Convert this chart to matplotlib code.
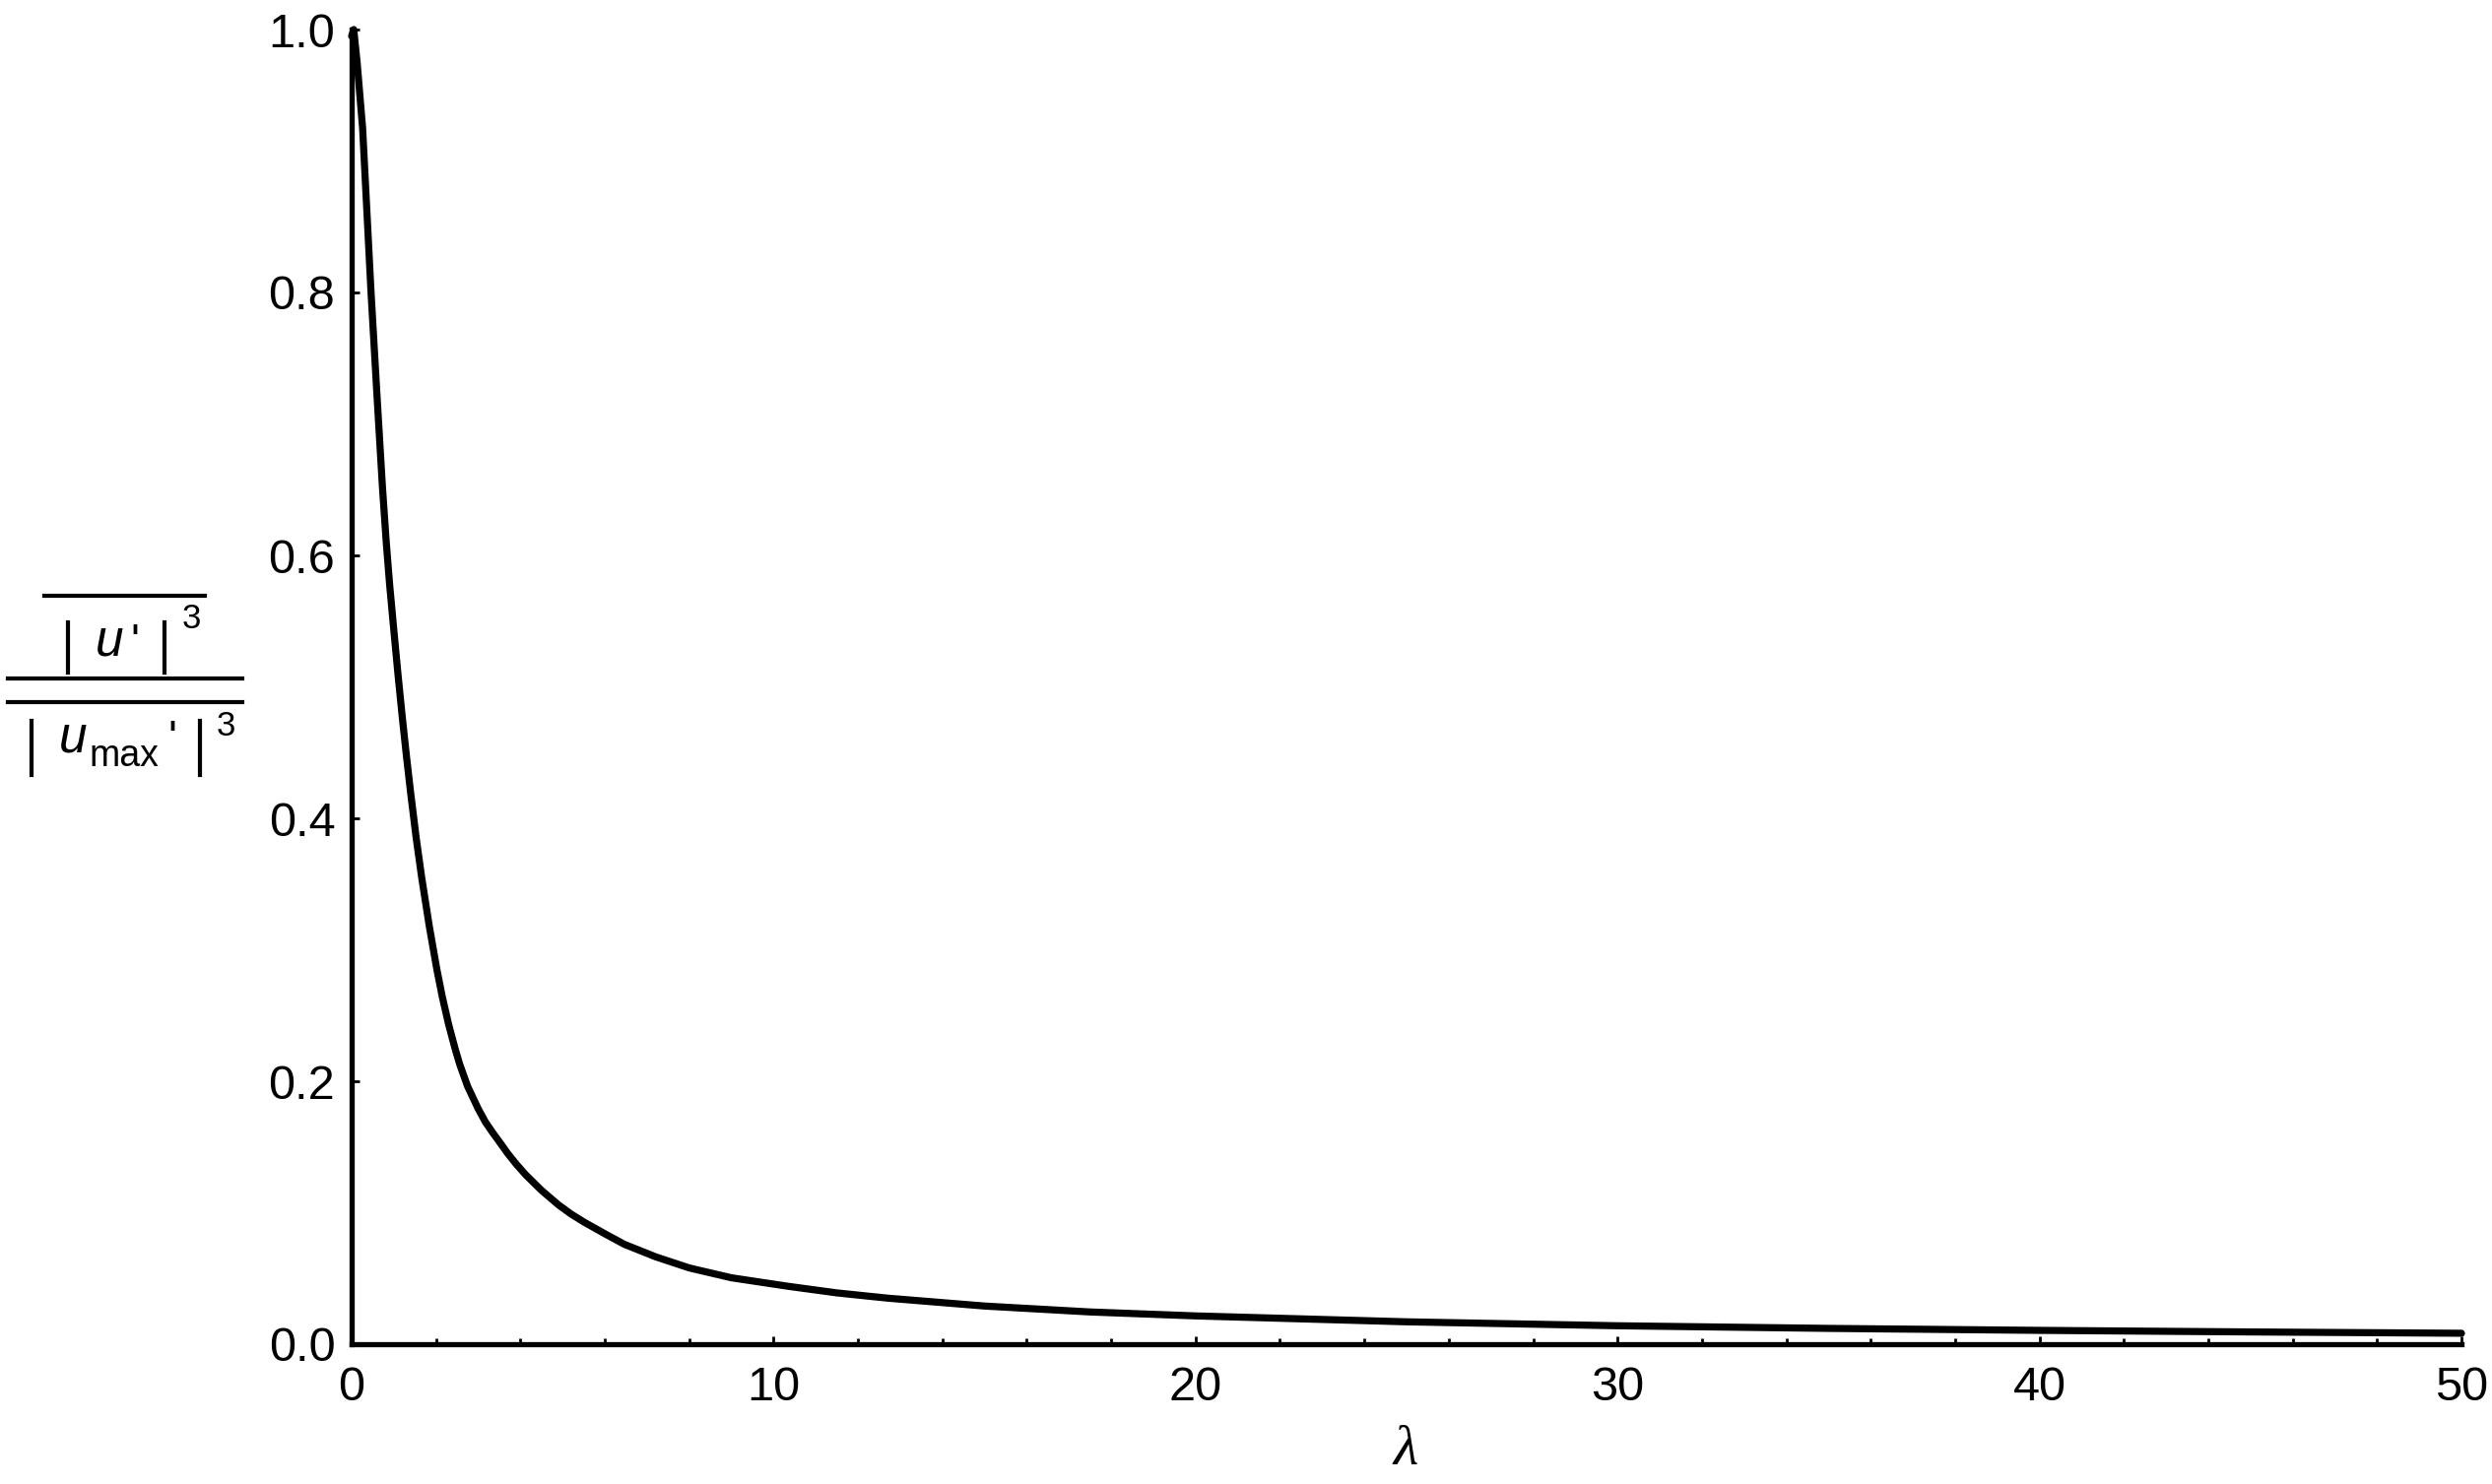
import numpy as np
import matplotlib
matplotlib.use("Agg")
import matplotlib.pyplot as plt
from matplotlib.lines import Line2D

# values
lam = [0.0, 0.05, 0.13, 0.26, 0.34, 0.46, 0.60, 0.73, 0.82, 0.9, 1.0,
       1.1, 1.2, 1.3, 1.4, 1.53, 1.66, 1.84, 2.02, 2.15, 2.3, 2.45,
       2.56, 2.75, 3.0, 3.17, 3.34, 3.5, 3.7, 3.9, 4.12, 4.5, 4.9,
       5.2, 5.5, 6.0, 6.46, 7.2, 8.0, 9.0, 10.35, 11.5, 12.7, 15.0,
       17.5, 20.0, 25.0, 30.0, 35.0, 40.0, 45.0, 50.0]
ratio = [0.995, 1.0, 0.975, 0.925, 0.875, 0.80, 0.722, 0.652, 0.61, 0.578, 0.543,
         0.509, 0.477, 0.447, 0.419, 0.385, 0.355, 0.318, 0.285, 0.264, 0.243, 0.225,
         0.213, 0.196, 0.179, 0.169, 0.161, 0.154, 0.145, 0.137, 0.129, 0.117, 0.106,
         0.099, 0.093, 0.084, 0.076, 0.0665, 0.058, 0.0505, 0.044, 0.039, 0.035, 0.029,
         0.0245, 0.0215, 0.017, 0.014, 0.012, 0.0105, 0.0093, 0.0083]

x_ticks = [0, 10, 20, 30, 40, 50]
x_minor = [2, 4, 6, 8, 12, 14, 16, 18, 22, 24, 26, 28, 32, 34, 36, 38, 42, 44, 46, 48]
y_ticks = [0.0, 0.2, 0.4, 0.6, 0.8, 1.0]
y_tick_labels = ["0.0", "0.2", "0.4", "0.6", "0.8", "1.0"]

W, H = 2530, 1507
dpi = 100
sans = "Liberation Sans"

fig = plt.figure(figsize=(W / dpi, H / dpi), dpi=dpi)
ax = fig.add_axes([357 / W, 1 - 1365 / H, (2499 - 357) / W, (1365 - 30) / H])

ax.plot(lam, ratio, color="black", lw=5.2, solid_capstyle="round",
        solid_joinstyle="round", clip_on=False)

ax.set_xlim(0, 50)
ax.set_ylim(0, 1.0)
for s in ["top", "right"]:
    ax.spines[s].set_visible(False)
for s in ["left", "bottom"]:
    ax.spines[s].set_linewidth(3.8)

ax.set_xticks(x_ticks)
ax.set_xticks(x_minor, minor=True)
ax.set_yticks(y_ticks)
ax.set_yticklabels(y_tick_labels)
ax.tick_params(axis="both", which="major", direction="in", length=6, width=2,
               labelsize=35, pad=16)
ax.tick_params(axis="x", which="minor", direction="in", length=4, width=2)
ax.tick_params(axis="y", which="major", pad=12)
for lab in ax.get_xticklabels() + ax.get_yticklabels():
    lab.set_fontfamily(sans)

# x label
fig.text(1427 / W, 1 - 1473 / H, "λ", fontsize=42, family="Liberation Serif",
         style="italic", ha="center", va="center")


# y label, pieced together in pixel coordinates
def put(x, y, s, size, **kw):
    fig.text(x / W, 1 - y / H, s, fontsize=size, family=sans,
             ha="left", va="baseline", **kw)


def hline(x0, x1, y, lw=3.0):
    fig.add_artist(Line2D([x0 / W, x1 / W], [1 - y / H, 1 - y / H],
                          color="black", lw=lw, transform=fig.transFigure))


def vline(x, y0, y1, lw=3.0):
    fig.add_artist(Line2D([x / W, x / W], [1 - y0 / H, 1 - y1 / H],
                          color="black", lw=lw, transform=fig.transFigure))


# numerator
hline(45, 208, 605)
vline(69, 632, 683)
put(97, 666, "u", 37, style="italic")
put(132, 666, "'", 34)
vline(167, 632, 683)
put(185, 638, "3", 25)

# fraction lines
hline(8, 246, 689)
hline(8, 246, 713)

# denominator
vline(32, 732, 787)
put(60, 764, "u", 37, style="italic")
put(90, 778, "max", 27)
put(170, 764, "'", 34)
vline(203, 732, 787)
put(220, 747, "3", 25)

fig.savefig("out.png", dpi=dpi)
